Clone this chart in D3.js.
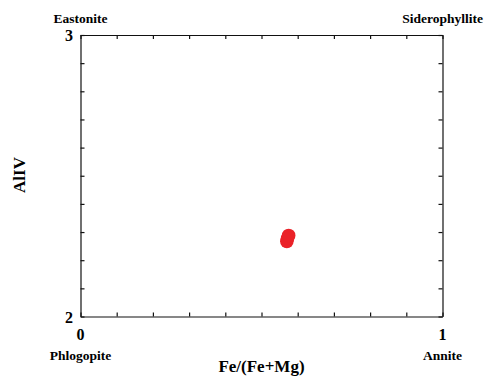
<html>
<head>
<script src="https://d3js.org/d3.v7.min.js"></script>
<style>
body { margin: 0; background: #fff; }
text { font-family: "Liberation Serif", "Times New Roman", serif; font-weight: bold; fill: #000; }
</style>
</head>
<body>
<svg id="chart" width="484" height="378"></svg>
<script>
// data
var feRatio = [0.570, 0.572, 0.575];
var alIV = [2.267, 2.278, 2.288];
var xTicks = [0, 1];
var yTicks = [2, 3];
var corners = ["Eastonite", "Siderophyllite", "Phlogopite", "Annite"];

var plotLeft = 80.5, plotRight = 442.5, plotTop = 35, plotBottom = 316.5;

var svg = d3.select("#chart");

var xscale = d3.scaleLinear().domain([0, 1]).range([plotLeft, plotRight]);
var yscale = d3.scaleLinear().domain([2, 3]).range([plotBottom, plotTop]);

var minor = d3.range(0, 1.0001, 0.1);
var minorY = d3.range(2, 3.0001, 0.1);

// frame with inward ticks on all four sides
svg.append("g").attr("transform", "translate(0," + plotBottom + ")")
    .call(d3.axisTop(xscale).tickValues(minor).tickSize(4).tickFormat("").tickSizeOuter(0));
svg.append("g").attr("transform", "translate(0," + plotTop + ")")
    .call(d3.axisBottom(xscale).tickValues(minor).tickSize(4).tickFormat("").tickSizeOuter(0));
svg.append("g").attr("transform", "translate(" + plotLeft + ",0)")
    .call(d3.axisRight(yscale).tickValues(minorY).tickSize(4).tickFormat("").tickSizeOuter(0));
svg.append("g").attr("transform", "translate(" + plotRight + ",0)")
    .call(d3.axisLeft(yscale).tickValues(minorY).tickSize(4).tickFormat("").tickSizeOuter(0));
svg.selectAll(".domain, .tick line").attr("stroke", "#111").attr("stroke-width", 1.2);

// tick labels
svg.selectAll(".xlab").data(xTicks).enter().append("text")
    .attr("x", function(d) { return xscale(d); })
    .attr("y", 340)
    .attr("text-anchor", "middle")
    .style("font-size", "16px")
    .text(function(d) { return d; });
svg.selectAll(".ylab").data(yTicks).enter().append("text")
    .attr("x", 73)
    .attr("y", function(d) { return yscale(d) + 6; })
    .attr("text-anchor", "end")
    .style("font-size", "16px")
    .text(function(d) { return d; });

// axis titles
svg.append("text")
    .attr("x", (plotLeft + plotRight) / 2)
    .attr("y", 372)
    .attr("text-anchor", "middle")
    .style("font-size", "17px")
    .text("Fe/(Fe+Mg)");
svg.append("text")
    .attr("transform", "translate(25,175) rotate(-90)")
    .attr("text-anchor", "middle")
    .style("font-size", "17px")
    .text("AlIV");

// end-member labels
svg.append("text").attr("x", xscale(0)).attr("y", 23).attr("text-anchor", "middle")
    .style("font-size", "13.5px").text(corners[0]);
svg.append("text").attr("x", 483).attr("y", 23).attr("text-anchor", "end")
    .style("font-size", "13.5px").text(corners[1]);
svg.append("text").attr("x", xscale(0)).attr("y", 360).attr("text-anchor", "middle")
    .style("font-size", "13.5px").text(corners[2]);
svg.append("text").attr("x", xscale(1)).attr("y", 360).attr("text-anchor", "middle")
    .style("font-size", "13.5px").text(corners[3]);

// points
svg.selectAll("circle").data(feRatio).enter().append("circle")
    .attr("cx", function(d) { return xscale(d); })
    .attr("cy", function(d, i) { return yscale(alIV[i]); })
    .attr("r", 6.8)
    .attr("fill", "#ea2228");
</script>
</body>
</html>
